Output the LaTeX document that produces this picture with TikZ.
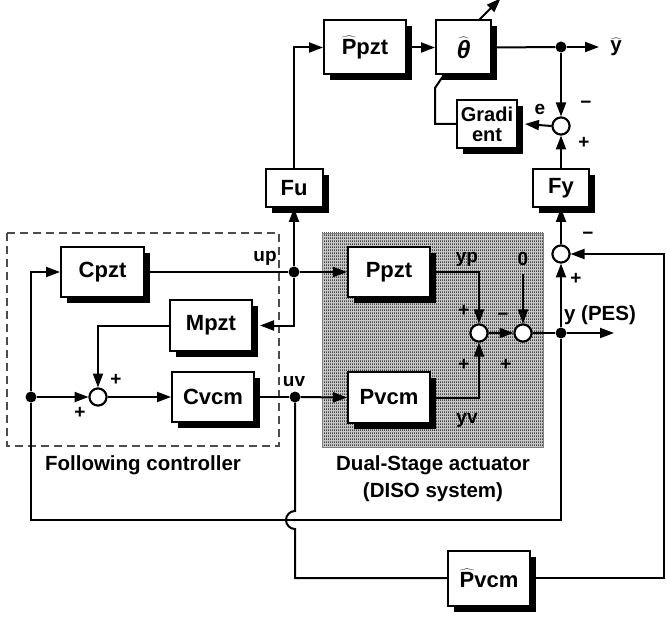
\documentclass[tikz,border=0pt]{standalone}
\usepackage{fontspec}
\setmainfont{Liberation Sans}
\usetikzlibrary{arrows.meta,shadows,patterns}
\pgfdeclarepatternformonly{vdashes}{\pgfpointorigin}{\pgfqpoint{2pt}{3pt}}{\pgfqpoint{2pt}{3pt}}{%
  \pgfpathrectangle{\pgfpointorigin}{\pgfqpoint{1pt}{2pt}}\pgfusepath{fill}}
\begin{document}
\begin{tikzpicture}[x=1pt,y=-1pt,
  blk/.style={draw,line width=2pt,fill=white,inner sep=0pt,
    drop shadow={shadow xshift=6pt,shadow yshift=-6pt,fill=black,opacity=1},
    font=\bfseries\fontsize{22}{24}\selectfont},
  sumc/.style={circle,draw,line width=2pt,fill=white,minimum size=17pt,inner sep=0pt},
  dot/.style={circle,fill=black,minimum size=11pt,inner sep=0pt},
  lbl/.style={font=\bfseries\fontsize{19}{21}\selectfont,inner sep=0pt},
  big/.style={font=\bfseries\fontsize{20.5}{22}\selectfont,inner sep=0pt},
  wire/.style={line width=2pt},
  arr/.style={-{Triangle[length=14pt,width=10pt]}}]
\useasboundingbox (0,0) rectangle (666,617);

% frames
\fill[black!22] (322,233) rectangle (543,447);
\fill[pattern=vdashes,pattern color=black] (322,233) rectangle (543,447);
\draw[line width=0.8pt,gray] (322,233) rectangle (543,447);
\draw[line width=1.4pt,black!70,dash pattern=on 8pt off 5pt] (7,233) rectangle (279,446);

% coordinates
\coordinate (gk) at (435,88);
\coordinate (blc) at (31,520);
\coordinate (brc) at (561,520);
\coordinate (hopT) at (295,511);
\coordinate (vb) at (295,578);
\coordinate (rbc) at (664,578);
\coordinate (rtc) at (664,254);
\coordinate (yhe) at (599,47);
\coordinate (ype) at (614,333);

% blocks
\node[blk,minimum width=82pt,minimum height=54pt] (Pph) at (365,47.5) {$\widehat{\mbox{P}}$pzt};
\node[blk,minimum width=55pt,minimum height=54pt] (th) at (463.5,47.5) {\fontsize{25}{25}\selectfont$\widehat{\mbox{\itshape θ}}$};
\node[blk,minimum width=60pt,minimum height=48pt,align=center,font=\bfseries\fontsize{20}{20}\selectfont] (gr) at (487,124) {Gradi\\ent};
\node[blk,minimum width=57pt,minimum height=38pt] (Fu) at (294,188) {Fu};
\node[blk,minimum width=56pt,minimum height=38pt] (Fy) at (561,188) {Fy};
\node[blk,minimum width=83pt,minimum height=50pt] (Cp) at (102.5,272) {Cpzt};
\node[blk,minimum width=82pt,minimum height=51pt] (Mp) at (211,325.5) {Mpzt};
\node[blk,minimum width=82pt,minimum height=50pt] (Cv) at (213,397) {Cvcm};
\node[blk,minimum width=82pt,minimum height=50pt] (Pp) at (389,272) {Ppzt};
\node[blk,minimum width=82pt,minimum height=51pt] (Pv) at (389,397.5) {Pvcm};
\node[blk,minimum width=82pt,minimum height=55pt] (Pvh) at (489,578) {$\widehat{\mbox{P}}$vcm};

% summing junctions
\node[sumc] (se) at (561,126) {};
\node[sumc] (sf) at (561,254) {};
\node[sumc] (s1) at (479,333) {};
\node[sumc] (s2) at (523,333) {};
\node[sumc] (sc) at (98,397) {};

% branch dots
\node[dot] (dth) at (561,47) {};
\node[dot] (dup) at (294,272) {};
\node[dot] (duv) at (295,397) {};
\node[dot] (dy) at (561,333) {};
\node[dot] (dl) at (31,397) {};

% connectors
\draw[wire,arr] (Fu.north) |- (Pph.west);
\draw[wire,arr] (Pph.east) -- (th.west);
\draw[wire] (th.east) -- (dth);
\draw[wire,arr] (dth) -- (yhe);
\draw[wire,arr] ([xshift=16pt]th.north) -- ++(21,-21);
\draw[wire,arr] (dth) -- (se.north);
\draw[wire,arr] (Fy.north) -- (se.south);
\draw[wire,arr] (se.west) -- ([xshift=7pt]gr.east);
\draw[wire] (gr.west) -| (gk) -- ([xshift=-20pt]th.south);
\draw[wire,arr] (sf.north) -- (Fy.south);
\draw[wire,arr] (dup) -- (Fu.south);
\draw[wire] (Cp.east) -- (dup);
\draw[wire,arr] (dup) -- (Pp.west);
\draw[wire,arr] (dup) |- ([xshift=7pt]Mp.east);
\draw[wire,arr] (Mp.west) -| (sc.north);
\draw[wire,arr] (dl) -- (sc.west);
\draw[wire,arr] (dl) |- (Cp.west);
\draw[wire,arr] (sc.east) -- (Cv.west);
\draw[wire] (Cv.east) -- (duv);
\draw[wire,arr] (duv) -- (Pv.west);
\draw[wire,arr] (Pp.east) -| (s1.north);
\draw[wire,arr] (Pv.east) -| (s1.south);
\draw[wire,arr] (s1.east) -- (s2.west);
\node[lbl] (zero) at (523,259) {0};
\draw[wire,arr] ([yshift=-8pt]zero.south) -- (s2.north);
\draw[wire] (s2.east) -- (dy);
\draw[wire,arr] (dy) -- (ype);
\draw[wire,arr] (dy) -- (sf.south);
\draw[wire] (dl) -- (blc) -- (brc) -- (dy);
\draw[wire] (duv) -- (hopT) arc[start angle=90,end angle=270,radius=9pt] -- (vb) -- (Pvh.west);
\draw[wire,arr] (Pvh.east) -- (rbc) -- (rtc) -- (sf.east);

% redraw junctions on top
\node[sumc] at (se) {};
\node[sumc] at (sf) {};
\node[sumc] at (s1) {};
\node[sumc] at (s2) {};
\node[sumc] at (sc) {};

% labels
\node[big] (yh) at (616,47) {$\widehat{\mbox{y}}$};
\node[lbl] (le) at (540,109) {e};
\node[lbl] (lm1) at (586,105) {−};
\node[lbl] (lp1) at (584,143) {+};
\node[lbl] (lm2) at (588,236) {−};
\node[lbl] (lp2) at (576,279) {+};
\node[lbl] (lup) at (265,258) {up};
\node[lbl] (luv) at (294,382) {uv};
\node[lbl] (lyp) at (467,259) {yp};
\node[lbl] (lyv) at (467,420) {yv};
\node[lbl] (lp3) at (464,311) {+};
\node[lbl] (lp4) at (464,365) {+};
\node[lbl] (lm3) at (503,317) {−};
\node[lbl] (lp5) at (506,365) {+};
\node[lbl] (lp6) at (116,380) {+};
\node[lbl] (lp7) at (80,413) {+};
\node[big] (lpes) at (600,315) {y (PES)};
\node[big] (lfc) at (143,465) {Following controller};
\node[big] (lds) at (433,465) {Dual-Stage actuator};
\node[big] (ldiso) at (433,492) {(DISO system)};
\end{tikzpicture}
\end{document}
